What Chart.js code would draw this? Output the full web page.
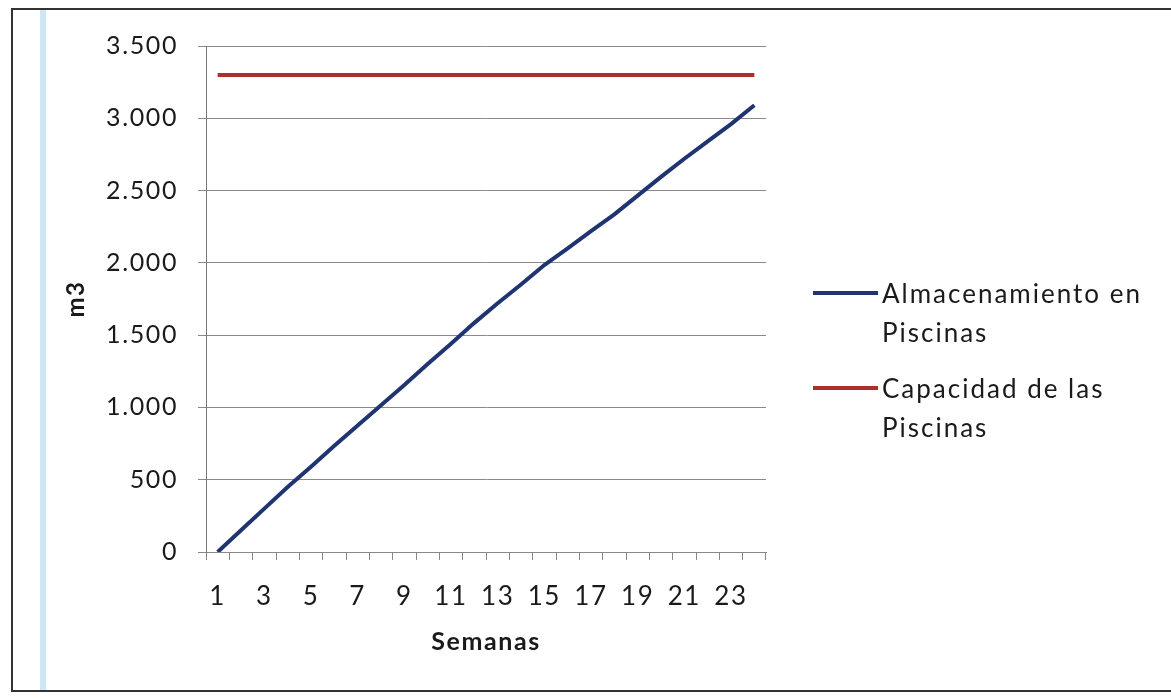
<!DOCTYPE html>
<html>
<head>
<meta charset="utf-8">
<script src="https://cdn.jsdelivr.net/npm/chart.js@4.4.1/dist/chart.umd.min.js"></script>
<style>
  html, body { margin: 0; padding: 0; background: #fff; }
  #wrap { position: relative; width: 1171px; height: 699px; overflow: hidden; }
  #frame { position: absolute; left: 11px; top: 8px; width: 1200px; height: 684px; border: 2px solid #333; box-sizing: border-box; }
  #stripe { position: absolute; left: 40px; top: 10px; width: 6px; height: 680px; background: #cfe6f6; }
  canvas { position: absolute; left: 0; top: 0; }
</style>
</head>
<body>
<div id="wrap">
  <div id="frame"></div>
  <div id="stripe"></div>
  <canvas id="chart" width="1171" height="699"></canvas>
</div>
<script>
// Weeks 1..24
const weeks = ['1','2','3','4','5','6','7','8','9','10','11','12','13','14','15','16','17','18','19','20','21','22','23','24'];
// m3 stored in the pools
const almacenamiento = [0, 150, 300, 450, 590, 735, 875, 1015, 1155, 1300, 1440, 1585, 1720, 1850, 1985, 2100, 2220, 2335, 2465, 2595, 2720, 2840, 2960, 3090];
// pool capacity
const capacidad = [3300, 3300, 3300, 3300, 3300, 3300, 3300, 3300, 3300, 3300, 3300, 3300, 3300, 3300, 3300, 3300, 3300, 3300, 3300, 3300, 3300, 3300, 3300, 3300];
const legendLines = [['Almacenamiento en', 'Piscinas'], ['Capacidad de las', 'Piscinas']];
const yTicks = [0, 500, 1000, 1500, 2000, 2500, 3000, 3500];

const FONT = 'Lato, "Open Sans", sans-serif';

// thousands with a dot, like the original
function fmt(v) {
  return String(v).replace(/\B(?=(\d{3})+(?!\d))/g, '.');
}

// the scan is a bit wide, spread the letters a little
const spacing = {
  id: 'spacing',
  beforeDraw(chart) { chart.ctx.letterSpacing = '1.6px'; }
};

// legend drawn by hand so the labels wrap like Excel
const sideLegend = {
  id: 'sideLegend',
  afterDraw(chart) {
    const ctx = chart.ctx;
    const x0 = 813, lineW = 65, tx = 882;
    const starts = [293, 388];
    ctx.save();
    ctx.letterSpacing = '2px';
    ctx.font = '26px ' + FONT;
    ctx.fillStyle = '#1a1a1a';
    ctx.textBaseline = 'middle';
    chart.data.datasets.forEach((ds, i) => {
      const y = starts[i];
      ctx.strokeStyle = ds.borderColor;
      ctx.lineWidth = 4;
      ctx.beginPath();
      ctx.moveTo(x0, y);
      ctx.lineTo(x0 + lineW, y);
      ctx.stroke();
      legendLines[i].forEach((t, j) => ctx.fillText(t, tx, y + 2 + j * 39));
    });
    ctx.restore();
  }
};

new Chart(document.getElementById('chart'), {
  type: 'line',
  data: {
    labels: weeks,
    datasets: [
      {
        label: 'Almacenamiento en Piscinas',
        data: almacenamiento,
        borderColor: '#1f3471',
        borderWidth: 4,
        pointRadius: 0,
        tension: 0
      },
      {
        label: 'Capacidad de las Piscinas',
        data: capacidad,
        borderColor: '#ad2f2b',
        borderWidth: 4,
        pointRadius: 0,
        tension: 0
      }
    ]
  },
  options: {
    responsive: false,
    animation: false,
    layout: { padding: { left: 50, right: 405, top: 46, bottom: 20 } },
    plugins: { legend: { display: false }, tooltip: { enabled: false } },
    scales: {
      x: {
        offset: true,
        grid: { offset: true, drawOnChartArea: false, drawTicks: true, tickLength: 8, color: '#888' },
        border: { display: true, color: '#888', width: 1 },
        ticks: {
          autoSkip: false,
          maxRotation: 0,
          padding: 21,
          color: '#1a1a1a',
          font: { family: FONT, size: 26 },
          callback: function (v, i) { return i % 2 === 0 ? weeks[i] : ''; }
        },
        title: { display: true, text: 'Semanas', color: '#1a1a1a', font: { family: FONT, size: 25, weight: 'bold' }, padding: { top: 0, bottom: 22 } },
        afterFit: s => { s.height = 699 - 552 - 20; }
      },
      y: {
        min: 0,
        max: 3500,
        afterBuildTicks: s => { s.ticks = yTicks.map(v => ({ value: v })); },
        grid: { color: '#8a8a8a', lineWidth: 1, tickLength: 8 },
        border: { display: true, color: '#777', width: 1 },
        ticks: {
          padding: 20,
          color: '#1a1a1a',
          font: { family: FONT, size: 25 },
          callback: v => fmt(v)
        },
        title: { display: true, text: 'm3', color: '#1a1a1a', font: { family: FONT, size: 24, weight: 'bold' }, padding: { top: 12, bottom: 0 } },
        afterFit: s => { s.width = 206 - 50; }
      }
    }
  },
  plugins: [spacing, sideLegend]
});
</script>
</body>
</html>
